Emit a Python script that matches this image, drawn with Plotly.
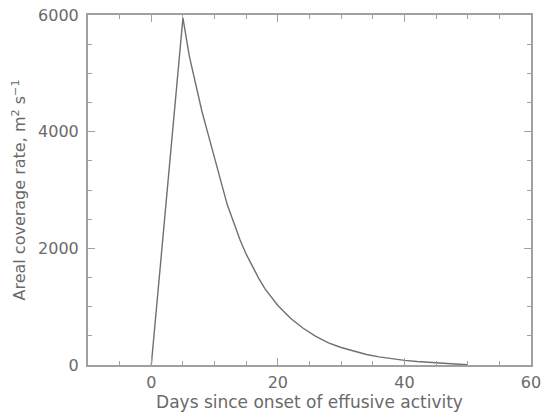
import plotly.graph_objects as go

days = [0, 5, 6, 7, 8, 9, 10, 11, 12, 13, 14, 15, 16, 17, 18, 20, 22, 24, 26,
        28, 30, 32, 34, 36, 38, 40, 42, 44, 46, 48, 50]
rate = [0, 5950, 5300, 4800, 4350, 3950, 3550, 3150, 2750, 2450, 2150, 1900,
        1680, 1480, 1300, 1020, 800, 630, 490, 380, 300, 235, 180, 140, 105,
        80, 60, 42, 28, 16, 5]

x_range = [-10, 60]
y_range = [0, 6000]

grey = "#6a6a6a"
axis_grey = "#a0a0a0"
font = dict(family="DejaVu Sans", size=16, color=grey)

fig = go.Figure()
fig.add_trace(go.Scatter(
    x=days, y=rate, mode="lines",
    line=dict(color="#707070", width=1.4),
    showlegend=False, hoverinfo="skip"
))

axis_common = dict(
    showline=True, linecolor=axis_grey, linewidth=2, mirror="allticks",
    ticks="inside", ticklen=7, tickcolor=axis_grey, tickwidth=1.2,
    showgrid=False, zeroline=False, tickfont=font, automargin=False,
)

fig.update_xaxes(
    range=x_range, tick0=0, dtick=20,
    minor=dict(ticks="inside", ticklen=4, dtick=5, tick0=0, tickcolor=axis_grey),
    title=dict(text="Days since onset of effusive activity",
               font=dict(family="DejaVu Sans", size=17, color=grey), standoff=0),
    ticklabelstandoff=2,
    **axis_common
)
fig.update_yaxes(
    range=y_range, tick0=0, dtick=2000,
    minor=dict(ticks="inside", ticklen=4, dtick=500, tick0=0, tickcolor=axis_grey),
    title=dict(text="Areal coverage rate, m<sup>2</sup> s<sup>\u22121</sup>", font=font, standoff=8),
    ticklabelstandoff=4,
    **axis_common
)

fig.update_layout(
    width=542, height=412,
    margin=dict(l=88, r=11, t=15, b=47),
    plot_bgcolor="white", paper_bgcolor="white",
)

# page body has a default 8px margin; drop it so the chart sits at the corner
fig.write_html("out.html", config={"displayModeBar": False},
               post_script="document.body.style.margin='0';")
